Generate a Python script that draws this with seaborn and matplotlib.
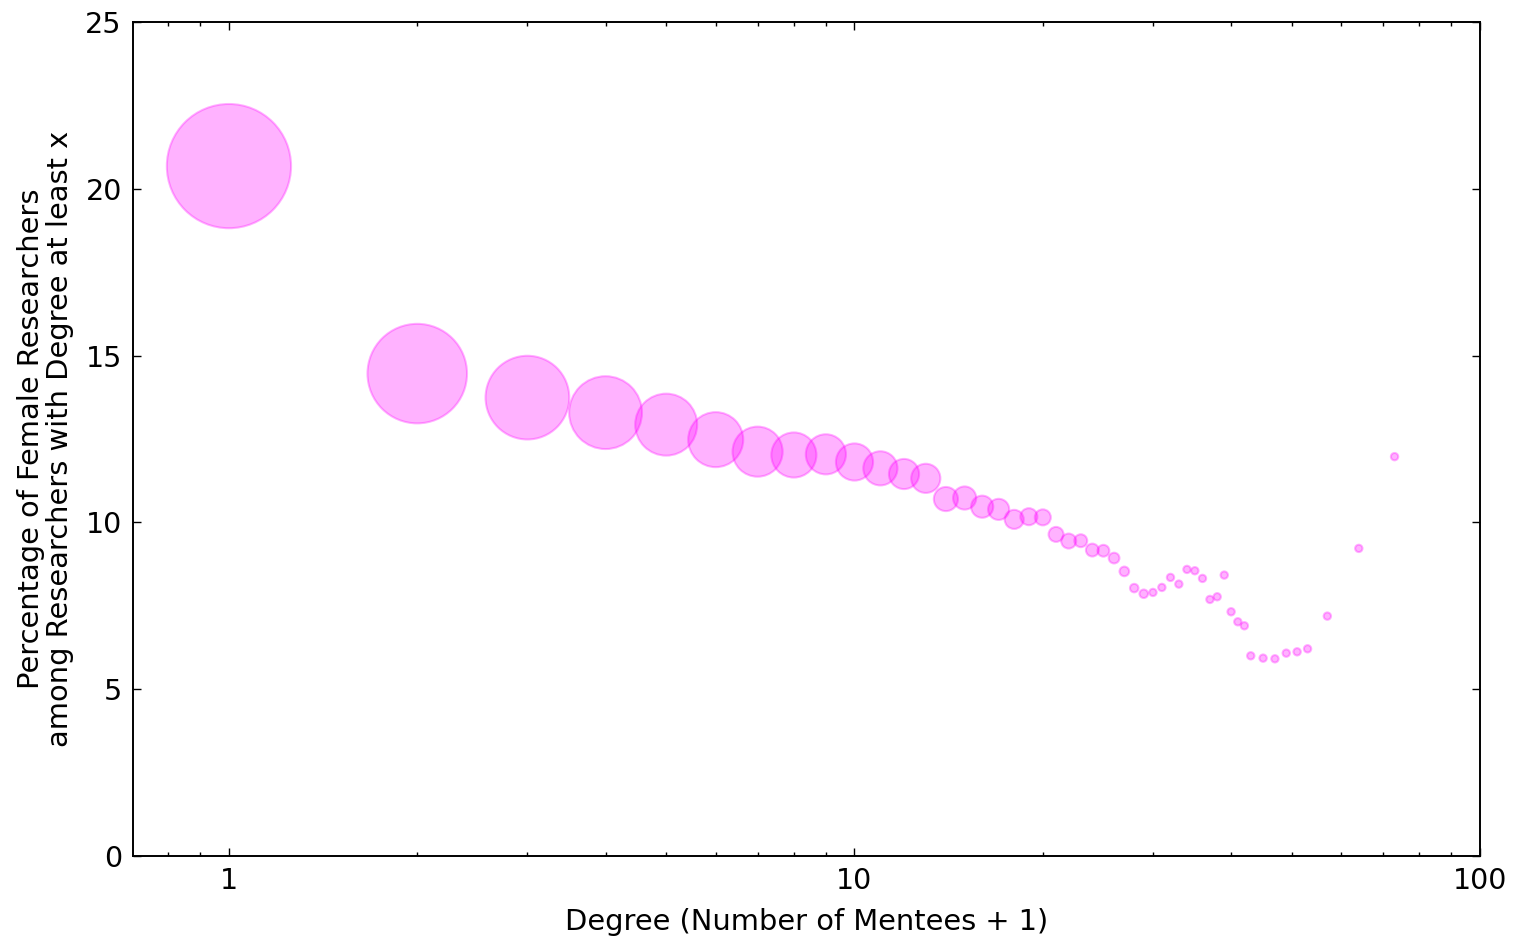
import numpy as np
import pandas as pd
import matplotlib
matplotlib.use("Agg")
import matplotlib.pyplot as plt
import seaborn as sns
from matplotlib.ticker import LogLocator, FixedLocator, NullFormatter

# Degree threshold (number of mentees + 1)
degree = [1, 2, 3, 4, 5, 6, 7, 8, 9, 10, 11, 12, 13, 14, 15, 16, 17, 18, 19, 20,
          21, 22, 23, 24, 25, 26, 27, 28, 29, 30, 31, 32, 33, 34, 35, 36, 37, 38,
          39, 40, 41, 42, 43, 45, 47, 49, 51, 53, 57, 64, 73]

# Percentage of female researchers among researchers with degree >= x
pct_female = [20.68, 14.46, 13.74, 13.29, 12.93, 12.48, 12.12, 12.02, 12.04, 11.81,
              11.62, 11.45, 11.32, 10.70, 10.73, 10.47, 10.39, 10.09, 10.17, 10.15,
              9.64, 9.44, 9.45, 9.17, 9.15, 8.93, 8.53, 8.03, 7.86, 7.90,
              8.05, 8.35, 8.15, 8.59, 8.55, 8.32, 7.69, 7.77, 8.42, 7.32,
              7.02, 6.90, 6.00, 5.93, 5.91, 6.08, 6.12, 6.21, 7.19, 9.22, 11.97]

# Relative group weight per threshold (drives the bubble area)
group_weight = [15876, 10201, 7225, 5476, 3969, 3136, 2601, 2116, 1681, 1444,
                1225, 961, 900, 625, 576, 529, 484, 400, 324, 289,
                256, 256, 196, 196, 169, 144, 121, 100, 100, 81,
                81, 81, 81, 81, 81, 81, 81, 81, 81, 81,
                81, 81, 81, 81, 81, 81, 81, 81, 81, 81, 81]

df = pd.DataFrame({"degree": degree, "pct": pct_female, "weight": group_weight})

sns.set_style("ticks")
plt.rcParams["font.family"] = ["DejaVu Sans"]
plt.rcParams["text.color"] = "black"
plt.rcParams["axes.labelcolor"] = "black"
plt.rcParams["xtick.color"] = "black"
plt.rcParams["ytick.color"] = "black"

fig = plt.figure(figsize=(15.18, 9.40), dpi=100)
ax = fig.add_axes([0.0876, 0.0894, 0.975 - 0.0876, 0.9766 - 0.0894])

sns.scatterplot(data=df, x="degree", y="pct", size="weight",
                sizes=(28, 8000), size_norm=(min(group_weight), max(group_weight)),
                color="magenta", alpha=0.3, edgecolor="magenta", linewidth=1.5,
                legend=False, ax=ax)

ax.set_xscale("log")
ax.set_xlim(0.7024, 100)
ax.set_ylim(0, 25)
ax.xaxis.set_major_locator(FixedLocator([1, 10, 100]))
ax.set_xticklabels(["1", "10", "100"])
ax.xaxis.set_minor_locator(LogLocator(base=10, subs=np.arange(2, 10)))
ax.xaxis.set_minor_formatter(NullFormatter())
ax.set_yticks([0, 5, 10, 15, 20, 25])

for side in ["top", "right", "left", "bottom"]:
    ax.spines[side].set_visible(True)
    ax.spines[side].set_linewidth(1.4)
    ax.spines[side].set_color("black")

ax.tick_params(which="both", direction="in", top=True, right=True,
               labelsize=20.5, color="black", labelcolor="black", width=1.0)
ax.tick_params(which="major", length=6, pad=8)
ax.tick_params(which="minor", length=3)

ax.set_xlabel("Degree (Number of Mentees + 1)", fontsize=20.8, labelpad=9,
              color="black")
ax.set_ylabel("Percentage of Female Researchers\namong Researchers with Degree at least x",
              fontsize=20.8, labelpad=8, linespacing=1.05, color="black")

fig.savefig("out.png", dpi=100, facecolor="white")
